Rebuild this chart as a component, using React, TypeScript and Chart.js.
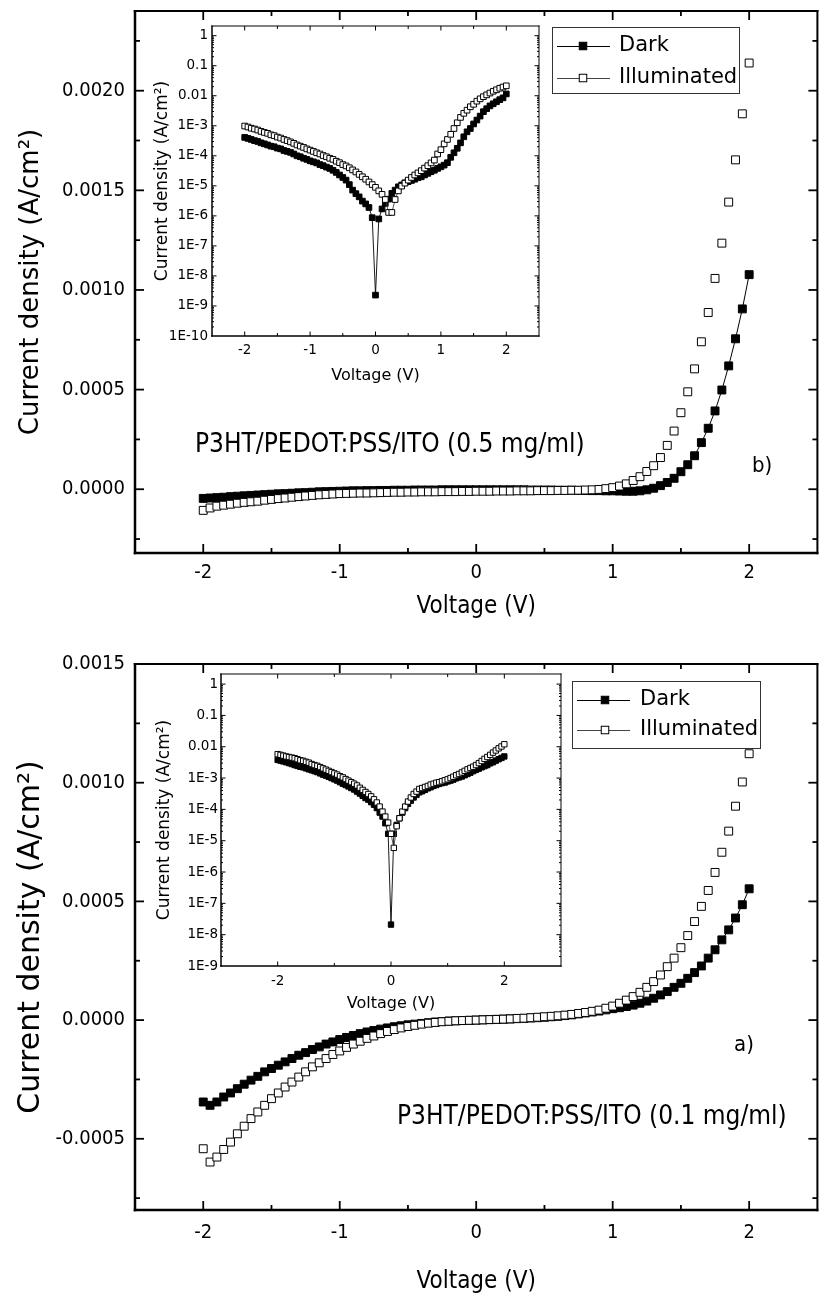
import { useEffect, useRef } from 'react';
import { Chart, registerables } from 'chart.js';

Chart.register(...registerables);

const COND = "'DejaVu Sans Condensed', 'DejaVu Sans', sans-serif";
const SANS = "'DejaVu Sans', sans-serif";

// Bias sweep shared by every curve (V)
const VOLTAGE = [
  -2, -1.95, -1.9, -1.85, -1.8, -1.75, -1.7, -1.65, -1.6, -1.55,
  -1.5, -1.45, -1.4, -1.35, -1.3, -1.25, -1.2, -1.15, -1.1, -1.05,
  -1, -0.95, -0.9, -0.85, -0.8, -0.75, -0.7, -0.65, -0.6, -0.55,
  -0.5, -0.45, -0.4, -0.35, -0.3, -0.25, -0.2, -0.15, -0.1, -0.05,
  0, 0.05, 0.1, 0.15, 0.2, 0.25, 0.3, 0.35, 0.4, 0.45,
  0.5, 0.55, 0.6, 0.65, 0.7, 0.75, 0.8, 0.85, 0.9, 0.95,
  1, 1.05, 1.1, 1.15, 1.2, 1.25, 1.3, 1.35, 1.4, 1.45,
  1.5, 1.55, 1.6, 1.65, 1.7, 1.75, 1.8, 1.85, 1.9, 1.95,
  2,
];

// P3HT/PEDOT:PSS/ITO (0.5 mg/ml) — current density, A/cm²
const J05_DARK = [
  -46e-6, -44e-6, -42e-6, -40e-6, -37e-6, -35e-6, -33e-6, -31e-6, -29e-6, -27e-6,
  -25e-6, -23e-6, -22e-6, -20e-6, -18e-6, -17e-6, -15e-6, -13e-6, -12e-6, -11e-6,
  -10e-6, -9e-6, -8e-6, -8e-6, -7e-6, -7e-6, -6e-6, -6e-6, -5e-6, -5e-6,
  -5e-6, -4e-6, -4e-6, -4e-6, -4e-6, -3e-6, -3e-6, -3e-6, -3e-6, -3e-6,
  -3e-6, -3e-6, -3e-6, -3e-6, -3e-6, -3e-6, -3e-6, -3e-6, -4e-6, -4e-6,
  -4e-6, -4e-6, -5e-6, -5e-6, -5e-6, -6e-6, -6e-6, -7e-6, -7e-6, -8e-6,
  -8e-6, -9e-6, -10e-6, -10e-6, -8e-6, -3e-6, 5e-6, 18e-6, 34e-6, 55e-6,
  88e-6, 123e-6, 168e-6, 234e-6, 306e-6, 393e-6, 498e-6, 619e-6, 755e-6, 905e-6,
  1077e-6,
];
const J05_ILLUM = [
  -106e-6, -94e-6, -85e-6, -80e-6, -75e-6, -70e-6, -66e-6, -63e-6, -60e-6, -55e-6,
  -51e-6, -47e-6, -44e-6, -40e-6, -37e-6, -34e-6, -31e-6, -28e-6, -26e-6, -24e-6,
  -22e-6, -21e-6, -20e-6, -19e-6, -19e-6, -18e-6, -17e-6, -16e-6, -15e-6, -15e-6,
  -14e-6, -14e-6, -13e-6, -13e-6, -13e-6, -12e-6, -12e-6, -12e-6, -11e-6, -11e-6,
  -10e-6, -10e-6, -10e-6, -9e-6, -9e-6, -9e-6, -8e-6, -8e-6, -8e-6, -7e-6,
  -7e-6, -7e-6, -6e-6, -6e-6, -5e-6, -5e-6, -4e-6, -3e-6, -1e-6, 3e-6,
  8e-6, 16e-6, 27e-6, 44e-6, 63e-6, 89e-6, 118e-6, 159e-6, 220e-6, 292e-6,
  384e-6, 489e-6, 604e-6, 740e-6, 887e-6, 1058e-6, 1235e-6, 1441e-6, 1653e-6, 1884e-6,
  2139e-6,
];
// Same device, magnitude on a log axis (inset)
const J05_LOG_DARK = [
  4.1e-4, 3.8e-4, 3.5e-4, 3.2e-4, 3.0e-4, 2.7e-4, 2.5e-4, 2.3e-4, 2.1e-4, 2.0e-4,
  1.8e-4, 1.7e-4, 1.5e-4, 1.4e-4, 1.3e-4, 1.15e-4, 1.0e-4, 9.3e-5, 8.3e-5, 7.6e-5,
  6.8e-5, 6.3e-5, 5.8e-5, 5.1e-5, 4.7e-5, 4.2e-5, 3.8e-5, 3.3e-5, 2.8e-5, 2.3e-5,
  1.9e-5, 1.55e-5, 1.1e-5, 7.2e-6, 5.5e-6, 4.3e-6, 3.1e-6, 2.5e-6, 1.9e-6, 8.7e-7,
  2.3e-9, 7.9e-7, 1.7e-6, 2.6e-6, 3.6e-6, 5.6e-6, 7.2e-6, 9.3e-6, 1.07e-5, 1.26e-5,
  1.38e-5, 1.51e-5, 1.66e-5, 1.86e-5, 2.0e-5, 2.3e-5, 2.6e-5, 2.95e-5, 3.3e-5, 3.8e-5,
  4.3e-5, 4.9e-5, 5.9e-5, 8.9e-5, 1.26e-4, 1.78e-4, 2.7e-4, 4.3e-4, 6.3e-4, 8.1e-4,
  1.15e-3, 1.55e-3, 2.1e-3, 2.95e-3, 3.7e-3, 4.6e-3, 5.4e-3, 6.3e-3, 7.4e-3, 8.5e-3,
  1.15e-2,
];
const J05_LOG_ILLUM = [
  9.8e-4, 9.1e-4, 8.3e-4, 7.8e-4, 7.2e-4, 6.5e-4, 6.0e-4, 5.6e-4, 5.0e-4, 4.7e-4,
  4.2e-4, 3.9e-4, 3.5e-4, 3.2e-4, 2.9e-4, 2.6e-4, 2.3e-4, 2.1e-4, 1.9e-4, 1.7e-4,
  1.55e-4, 1.4e-4, 1.26e-4, 1.15e-4, 1.02e-4, 9.3e-5, 8.3e-5, 7.6e-5, 6.6e-5, 5.9e-5,
  5.1e-5, 4.6e-5, 4.0e-5, 3.4e-5, 2.9e-5, 2.4e-5, 2.0e-5, 1.66e-5, 1.35e-5, 1.1e-5,
  8.9e-6, 6.8e-6, 5.2e-6, 3.5e-6, 1.3e-6, 1.3e-6, 3.5e-6, 6.8e-6, 9.8e-6, 1.23e-5,
  1.55e-5, 1.9e-5, 2.3e-5, 2.7e-5, 3.2e-5, 3.9e-5, 4.7e-5, 5.8e-5, 7.2e-5, 1.15e-4,
  1.6e-4, 2.5e-4, 3.5e-4, 5.2e-4, 8.1e-4, 1.26e-3, 1.9e-3, 2.6e-3, 3.3e-3, 4.3e-3,
  5.2e-3, 6.6e-3, 7.9e-3, 9.3e-3, 1.07e-2, 1.23e-2, 1.41e-2, 1.58e-2, 1.78e-2, 1.95e-2,
  2.14e-2,
];

// P3HT/PEDOT:PSS/ITO (0.1 mg/ml) — current density, A/cm²
const J01_DARK = [
  -345e-6, -359e-6, -345e-6, -324e-6, -307e-6, -289e-6, -270e-6, -253e-6, -237e-6, -218e-6,
  -204e-6, -190e-6, -176e-6, -162e-6, -148e-6, -137e-6, -124e-6, -113e-6, -101e-6, -92e-6,
  -82e-6, -73e-6, -65e-6, -57e-6, -50e-6, -44e-6, -38e-6, -33e-6, -28e-6, -24e-6,
  -20e-6, -17e-6, -14e-6, -11e-6, -8e-6, -6e-6, -4e-6, -3e-6, -2e-6, -1e-6,
  0, 1e-6, 2e-6, 3e-6, 4e-6, 5e-6, 6e-6, 7e-6, 9e-6, 10e-6,
  12e-6, 14e-6, 16e-6, 19e-6, 22e-6, 26e-6, 30e-6, 34e-6, 38e-6, 43e-6,
  48e-6, 52e-6, 57e-6, 63e-6, 71e-6, 80e-6, 92e-6, 106e-6, 120e-6, 138e-6,
  155e-6, 176e-6, 200e-6, 228e-6, 261e-6, 296e-6, 338e-6, 380e-6, 430e-6, 486e-6,
  553e-6,
];
const J01_ILLUM = [
  -542e-6, -598e-6, -577e-6, -545e-6, -514e-6, -479e-6, -447e-6, -415e-6, -387e-6, -359e-6,
  -331e-6, -307e-6, -282e-6, -261e-6, -240e-6, -218e-6, -197e-6, -180e-6, -162e-6, -145e-6,
  -130e-6, -115e-6, -101e-6, -89e-6, -77e-6, -67e-6, -57e-6, -48e-6, -40e-6, -33e-6,
  -27e-6, -22e-6, -17e-6, -13e-6, -10e-6, -7e-6, -5e-6, -3e-6, -2e-6, -1e-6,
  0, 1e-6, 2e-6, 3e-6, 4e-6, 5e-6, 7e-6, 8e-6, 10e-6, 12e-6,
  14e-6, 16e-6, 18e-6, 21e-6, 24e-6, 28e-6, 32e-6, 37e-6, 42e-6, 50e-6,
  59e-6, 71e-6, 84e-6, 99e-6, 117e-6, 138e-6, 162e-6, 190e-6, 225e-6, 261e-6,
  305e-6, 356e-6, 415e-6, 479e-6, 546e-6, 622e-6, 707e-6, 796e-6, 901e-6, 1003e-6,
  1122e-6,
];
const J01_LOG_DARK = [
  3.8e-3, 3.6e-3, 3.4e-3, 3.2e-3, 3.0e-3, 2.8e-3, 2.6e-3, 2.45e-3, 2.3e-3, 2.2e-3,
  2.04e-3, 1.9e-3, 1.78e-3, 1.66e-3, 1.55e-3, 1.41e-3, 1.29e-3, 1.2e-3, 1.1e-3, 1.0e-3,
  9.1e-4, 8.3e-4, 7.4e-4, 6.6e-4, 6.0e-4, 5.4e-4, 4.8e-4, 4.3e-4, 3.7e-4, 3.2e-4,
  2.7e-4, 2.3e-4, 2.04e-4, 1.7e-4, 1.41e-4, 1.1e-4, 7.9e-5, 5.9e-5, 3.6e-5, 1.66e-5,
  2.1e-8, 1.66e-5, 3.2e-5, 5.2e-5, 7.9e-5, 1.1e-4, 1.5e-4, 1.9e-4, 2.4e-4, 2.9e-4,
  3.5e-4, 3.8e-4, 4.2e-4, 4.7e-4, 5.1e-4, 5.6e-4, 6.0e-4, 6.5e-4, 6.9e-4, 7.2e-4,
  7.8e-4, 8.3e-4, 8.9e-4, 9.8e-4, 1.05e-3, 1.12e-3, 1.23e-3, 1.35e-3, 1.48e-3, 1.66e-3,
  1.82e-3, 2.0e-3, 2.2e-3, 2.4e-3, 2.6e-3, 2.95e-3, 3.2e-3, 3.6e-3, 4.0e-3, 4.4e-3,
  4.9e-3,
];
const J01_LOG_ILLUM = [
  5.8e-3, 5.5e-3, 5.2e-3, 4.9e-3, 4.7e-3, 4.5e-3, 4.3e-3, 4.0e-3, 3.7e-3, 3.55e-3,
  3.3e-3, 3.1e-3, 2.8e-3, 2.6e-3, 2.45e-3, 2.24e-3, 2.04e-3, 1.86e-3, 1.7e-3, 1.55e-3,
  1.41e-3, 1.29e-3, 1.15e-3, 1.05e-3, 9.3e-4, 8.3e-4, 7.4e-4, 6.6e-4, 5.8e-4, 4.9e-4,
  4.2e-4, 3.6e-4, 3.1e-4, 2.6e-4, 2.1e-4, 1.66e-4, 1.23e-4, 8.5e-5, 5.9e-5, 3.8e-5,
  1.66e-5, 5.9e-6, 2.9e-5, 5.2e-5, 8.5e-5, 1.23e-4, 1.78e-4, 2.4e-4, 3.1e-4, 3.7e-4,
  4.5e-4, 4.8e-4, 5.2e-4, 5.6e-4, 6.2e-4, 6.6e-4, 7.1e-4, 7.4e-4, 7.9e-4, 8.5e-4,
  9.1e-4, 1.0e-3, 1.1e-3, 1.23e-3, 1.35e-3, 1.51e-3, 1.7e-3, 1.9e-3, 2.1e-3, 2.3e-3,
  2.6e-3, 3.0e-3, 3.5e-3, 4.1e-3, 4.7e-3, 5.5e-3, 6.5e-3, 7.6e-3, 8.9e-3, 1.02e-2,
  1.2e-2,
];

const SERIES_NAMES = ['Dark', 'Illuminated'];
const X_TITLE = 'Voltage (V)';
const Y_TITLE = 'Current density (A/cm²)';
const NOTE_05 = 'P3HT/PEDOT:PSS/ITO (0.5 mg/ml)';
const NOTE_01 = 'P3HT/PEDOT:PSS/ITO (0.1 mg/ml)';

const MAIN_X_TICKS = [-2, -1, 0, 1, 2];
const MAIN_X_LABELS = ['-2', '-1', '0', '1', '2'];
const MAIN_X_MINOR = [-1.5, -0.5, 0.5, 1.5];
const TOP_Y_TICKS = [0, 0.0005, 0.001, 0.0015, 0.002];
const TOP_Y_LABELS = ['0.0000', '0.0005', '0.0010', '0.0015', '0.0020'];
const TOP_Y_MINOR = [-0.00025, 0.00025, 0.00075, 0.00125, 0.00175, 0.00225];
const BOTTOM_Y_TICKS = [-0.0005, 0, 0.0005, 0.001, 0.0015];
const BOTTOM_Y_LABELS = ['-0.0005', '0.0000', '0.0005', '0.0010', '0.0015'];
const BOTTOM_Y_MINOR = [-0.00075, -0.00025, 0.00025, 0.00075, 0.00125];

const INSET05_X_TICKS = [-2, -1, 0, 1, 2];
const INSET05_X_LABELS = ['-2', '-1', '0', '1', '2'];
const INSET05_X_MINOR = [-1.5, -0.5, 0.5, 1.5];
const INSET05_Y_TICKS = [1e-10, 1e-9, 1e-8, 1e-7, 1e-6, 1e-5, 1e-4, 1e-3, 1e-2, 1e-1, 1];
const INSET05_Y_LABELS = ['1E-10', '1E-9', '1E-8', '1E-7', '1E-6', '1E-5', '1E-4', '1E-3', '0.01', '0.1', '1'];
const INSET01_X_TICKS = [-2, 0, 2];
const INSET01_X_LABELS = ['-2', '0', '2'];
const INSET01_X_MINOR = [-1, 1];
const INSET01_Y_TICKS = [1e-9, 1e-8, 1e-7, 1e-6, 1e-5, 1e-4, 1e-3, 1e-2, 1e-1, 1];
const INSET01_Y_LABELS = ['1E-9', '1E-8', '1E-7', '1E-6', '1E-5', '1E-4', '1E-3', '0.01', '0.1', '1'];

const points = (ys: number[]) => VOLTAGE.map((x, i) => ({ x, y: ys[i] }));

// 2..9 × 10^e minor marks for a log axis
const logMinor = (lo: number, hi: number) => {
  const out: number[] = [];
  for (let e = lo; e < hi; e++) for (let k = 2; k <= 9; k++) out.push(k * Math.pow(10, e));
  return out;
};

// Boxed frame with inward ticks mirrored on all four sides
function framePlugin(f: any) {
  return {
    id: 'frame',
    afterDraw(chart: any) {
      const { ctx, chartArea: a } = chart;
      const sx = chart.scales.x;
      const sy = chart.scales.y;
      const seg = (x1: number, y1: number, x2: number, y2: number, w: number) => {
        ctx.lineWidth = w;
        ctx.beginPath();
        ctx.moveTo(x1, y1);
        ctx.lineTo(x2, y2);
        ctx.stroke();
      };
      ctx.save();
      ctx.strokeStyle = '#000';
      const xt = (v: number, len: number) => {
        const p = sx.getPixelForValue(v);
        if (p <= a.left + 1 || p >= a.right - 1) return;
        seg(p, a.bottom, p, a.bottom - len, f.tickW);
        seg(p, a.top, p, a.top + len, f.tickW);
      };
      const yt = (v: number, len: number) => {
        const p = sy.getPixelForValue(v);
        if (p <= a.top + 1 || p >= a.bottom - 1) return;
        seg(a.left, p, a.left + len, p, f.tickW);
        seg(a.right, p, a.right - len, p, f.tickW);
      };
      f.xMajor.forEach((v: number) => xt(v, f.major));
      f.xMinor.forEach((v: number) => xt(v, f.minor));
      f.yMajor.forEach((v: number) => yt(v, f.major));
      f.yMinor.forEach((v: number) => yt(v, f.yMinorLen));
      const [wl, wb, wt, wr] = f.lw;
      seg(a.left, a.top - wt / 2, a.left, a.bottom + wb / 2, wl);
      seg(a.left - wl / 2, a.bottom, a.right + wr / 2, a.bottom, wb);
      seg(a.left - wl / 2, a.top, a.right + wr / 2, a.top, wt);
      seg(a.right, a.top - wt / 2, a.right, a.bottom + wb / 2, wr);
      ctx.restore();
    },
  };
}

// Boxed key: line with the series marker in its middle, then the name
function keyPlugin(k: any) {
  return {
    id: 'key',
    afterDraw(chart: any) {
      const { ctx } = chart;
      ctx.save();
      ctx.lineWidth = 1;
      ctx.strokeStyle = '#333';
      ctx.strokeRect(k.x + 0.5, k.y + 0.5, k.w, k.h);
      ctx.font = `${k.size}px ${SANS}`;
      ctx.textBaseline = 'middle';
      ctx.textAlign = 'left';
      SERIES_NAMES.forEach((name, i) => {
        const ds = chart.data.datasets.find((d: any) => d.label === name);
        const y = k.rows[i];
        ctx.strokeStyle = ds.borderColor;
        ctx.lineWidth = 1;
        ctx.beginPath();
        ctx.moveTo(k.x0, y + 0.5);
        ctx.lineTo(k.x1, y + 0.5);
        ctx.stroke();
        const s = k.mark;
        ctx.fillStyle = ds.pointBackgroundColor;
        ctx.fillRect(k.mx - s / 2, y - s / 2, s, s);
        ctx.strokeStyle = ds.pointBorderColor;
        ctx.strokeRect(k.mx - s / 2, y - s / 2, s, s);
        ctx.fillStyle = '#000';
        ctx.fillText(name, k.tx, y);
      });
      ctx.restore();
    },
  };
}

function notesPlugin(items: any[]) {
  return {
    id: 'notes',
    afterDraw(chart: any) {
      const { ctx } = chart;
      ctx.save();
      ctx.fillStyle = '#000';
      ctx.textBaseline = 'middle';
      ctx.textAlign = 'left';
      items.forEach((it) => {
        ctx.font = it.font;
        ctx.fillText(it.text, it.x, it.y);
      });
      ctx.restore();
    },
  };
}

function seriesSets(dark: number[], illum: number[], s: any) {
  return [
    {
      label: 'Illuminated',
      data: points(illum),
      showLine: s.illumLine,
      pointStyle: 'rect',
      pointRadius: s.radius,
      pointBackgroundColor: '#fff',
      pointBorderColor: '#000',
      pointBorderWidth: 1,
      borderColor: '#444',
      borderWidth: s.lineW,
    },
    {
      label: 'Dark',
      data: points(dark),
      showLine: true,
      pointStyle: 'rect',
      pointRadius: s.radius,
      pointBackgroundColor: '#000',
      pointBorderColor: '#000',
      pointBorderWidth: 1,
      borderColor: '#000',
      borderWidth: s.lineW,
    },
  ];
}

function mainChart(canvas: HTMLCanvasElement, s: any) {
  return new Chart(canvas, {
    type: 'scatter',
    data: { datasets: seriesSets(s.dark, s.illum, { illumLine: false, radius: s.radius, lineW: 1 }) as any },
    options: {
      animation: false,
      responsive: false,
      devicePixelRatio: 1,
      events: [],
      layout: { padding: { top: s.padTop, right: 2, left: 0, bottom: 0 } },
      plugins: { legend: { display: false }, tooltip: { enabled: false } },
      scales: {
        x: {
          type: 'linear',
          min: -2.5,
          max: 2.5,
          afterBuildTicks: (sc: any) => { sc.ticks = MAIN_X_TICKS.map((value) => ({ value })); },
          afterFit: (sc: any) => { sc.height = s.xAxisH; sc.paddingLeft = 0; sc.paddingRight = 0; },
          grid: { display: false, drawTicks: false },
          border: { display: false },
          ticks: {
            autoSkip: false, maxRotation: 0, minRotation: 0, padding: s.xTickPad, color: '#000',
            font: { family: COND, size: 20 },
            callback: (_v: any, i: number) => MAIN_X_LABELS[i],
          },
          title: {
            display: true, text: X_TITLE, color: '#000',
            font: { family: COND, size: 24 },
            padding: { top: 0, bottom: s.xTitlePad },
          },
        },
        y: {
          type: 'linear',
          min: s.yMin,
          max: s.yMax,
          afterBuildTicks: (sc: any) => { sc.ticks = s.yTicks.map((value: number) => ({ value })); },
          afterFit: (sc: any) => { sc.width = 135; sc.paddingTop = 0; sc.paddingBottom = 0; },
          grid: { display: false, drawTicks: false },
          border: { display: false },
          ticks: {
            autoSkip: false, padding: 10, color: '#000',
            font: { family: COND, size: 20 },
            callback: (_v: any, i: number) => s.yLabels[i],
          },
          title: {
            display: true, text: Y_TITLE, color: '#000',
            font: { family: SANS, size: s.yTitleSize },
            padding: { top: s.yTitlePad, bottom: 0 },
          },
        },
      },
    } as any,
    plugins: [
      framePlugin({
        xMajor: MAIN_X_TICKS, xMinor: MAIN_X_MINOR, yMajor: s.yTicks, yMinor: s.yMinor,
        major: 9, minor: 5, yMinorLen: 5, tickW: 1.8, lw: [2.5, 2.5, 2, 2],
      }),
      keyPlugin(s.key),
      notesPlugin(s.notes),
    ] as any,
  });
}

function insetChart(canvas: HTMLCanvasElement, s: any) {
  return new Chart(canvas, {
    type: 'scatter',
    data: { datasets: seriesSets(s.dark, s.illum, { illumLine: true, radius: s.radius, lineW: 0.9 }) as any },
    options: {
      animation: false,
      responsive: false,
      devicePixelRatio: 1,
      events: [],
      layout: { padding: { top: s.padTop, right: s.padRight, left: 0, bottom: 0 } },
      plugins: { legend: { display: false }, tooltip: { enabled: false } },
      scales: {
        x: {
          type: 'linear',
          min: s.xMin,
          max: s.xMax,
          afterBuildTicks: (sc: any) => { sc.ticks = s.xTicks.map((value: number) => ({ value })); },
          afterFit: (sc: any) => { sc.height = s.xAxisH; sc.paddingLeft = 0; sc.paddingRight = 0; },
          grid: { display: false, drawTicks: false },
          border: { display: false },
          ticks: {
            autoSkip: false, maxRotation: 0, minRotation: 0, padding: s.xTickPad, color: '#000',
            font: { family: SANS, size: 13.5 },
            callback: (_v: any, i: number) => s.xLabels[i],
          },
          title: {
            display: true, text: X_TITLE, color: '#000',
            font: { family: SANS, size: 16 },
            padding: { top: 0, bottom: s.xTitlePad },
          },
        },
        y: {
          type: 'logarithmic',
          min: s.yMin,
          max: 2.1,
          afterBuildTicks: (sc: any) => { sc.ticks = s.yTicks.map((value: number) => ({ value })); },
          afterFit: (sc: any) => { sc.width = s.yAxisW; sc.paddingTop = 0; sc.paddingBottom = 0; },
          grid: { display: false, drawTicks: false },
          border: { display: false },
          ticks: {
            autoSkip: false, padding: s.yTickPad, color: '#000',
            font: { family: SANS, size: 13.5 },
            callback: (_v: any, i: number) => s.yLabels[i],
          },
          title: {
            display: true, text: Y_TITLE, color: '#000',
            font: { family: SANS, size: 17 },
            padding: { top: s.yTitlePad, bottom: 0 },
          },
        },
      },
    } as any,
    plugins: [
      framePlugin({
        xMajor: s.xTicks, xMinor: s.xMinor, yMajor: s.yTicks, yMinor: s.yMinorList,
        major: 4.5, minor: 3, yMinorLen: 2, tickW: 1, lw: [1.5, 1.5, 1, 1],
      }),
    ] as any,
  });
}

export default function App() {
  const topRef = useRef<HTMLCanvasElement>(null);
  const bottomRef = useRef<HTMLCanvasElement>(null);
  const insetTopRef = useRef<HTMLCanvasElement>(null);
  const insetBottomRef = useRef<HTMLCanvasElement>(null);

  useEffect(() => {
    const charts = [
      mainChart(topRef.current!, {
        dark: J05_DARK, illum: J05_ILLUM, radius: 5.6,
        yMin: -0.00032, yMax: 0.0024, yTicks: TOP_Y_TICKS, yLabels: TOP_Y_LABELS, yMinor: TOP_Y_MINOR,
        padTop: 11, xAxisH: 77, xTickPad: 8, xTitlePad: 9, yTitleSize: 26, yTitlePad: 16,
        key: { x: 552, y: 27, w: 187, h: 66, rows: [46, 78], x0: 557, x1: 610, mx: 583, mark: 7.5, tx: 619, size: 21 },
        notes: [
          { text: NOTE_05, x: 195, y: 445, font: `26px ${COND}` },
          { text: 'b)', x: 752, y: 466, font: `22px ${COND}` },
        ],
      }),
      mainChart(bottomRef.current!, {
        dark: J01_DARK, illum: J01_ILLUM, radius: 5.6,
        yMin: -0.0008, yMax: 0.0015, yTicks: BOTTOM_Y_TICKS, yLabels: BOTTOM_Y_LABELS, yMinor: BOTTOM_Y_MINOR,
        padTop: 34, xAxisH: 86, xTickPad: 11, xTitlePad: 0, yTitleSize: 30, yTitlePad: 13,
        key: { x: 572, y: 51, w: 188, h: 67, rows: [70, 100], x0: 577, x1: 630, mx: 605, mark: 7.5, tx: 640, size: 21 },
        notes: [
          { text: NOTE_01, x: 397, y: 487, font: `26px ${COND}` },
          { text: 'a)', x: 734, y: 415, font: `22px ${COND}` },
        ],
      }),
      insetChart(insetTopRef.current!, {
        dark: J05_LOG_DARK, illum: J05_LOG_ILLUM, radius: 4,
        xMin: -2.5, xMax: 2.5, xTicks: INSET05_X_TICKS, xLabels: INSET05_X_LABELS, xMinor: INSET05_X_MINOR,
        yMin: 1e-10, yTicks: INSET05_Y_TICKS, yLabels: INSET05_Y_LABELS, yMinorList: logMinor(-10, 1),
        padTop: 10, padRight: 16, yAxisW: 82, xAxisH: 60,
        yTickPad: 4, yTitlePad: 22, xTickPad: 6, xTitlePad: 11,
      }),
      insetChart(insetBottomRef.current!, {
        dark: J01_LOG_DARK, illum: J01_LOG_ILLUM, radius: 3.8,
        xMin: -3, xMax: 3, xTicks: INSET01_X_TICKS, xLabels: INSET01_X_LABELS, xMinor: INSET01_X_MINOR,
        yMin: 1e-9, yTicks: INSET01_Y_TICKS, yLabels: INSET01_Y_LABELS, yMinorList: logMinor(-9, 1),
        padTop: 18, padRight: 14, yAxisW: 91, xAxisH: 50,
        yTickPad: 3, yTitlePad: 24, xTickPad: 7, xTitlePad: 3,
      }),
    ];
    return () => charts.forEach((c) => c.destroy());
  }, []);

  return (
    <div style={{ position: 'absolute', left: 0, top: 0, width: 824, height: 1296, background: '#fff', overflow: 'hidden' }}>
      <canvas ref={topRef} width={824} height={630} style={{ position: 'absolute', left: 0, top: 0 }} />
      <canvas ref={bottomRef} width={824} height={666} style={{ position: 'absolute', left: 0, top: 630 }} />
      <canvas ref={insetTopRef} width={425} height={380} style={{ position: 'absolute', left: 130, top: 16 }} />
      <canvas ref={insetBottomRef} width={445} height={360} style={{ position: 'absolute', left: 130, top: 656 }} />
    </div>
  );
}
